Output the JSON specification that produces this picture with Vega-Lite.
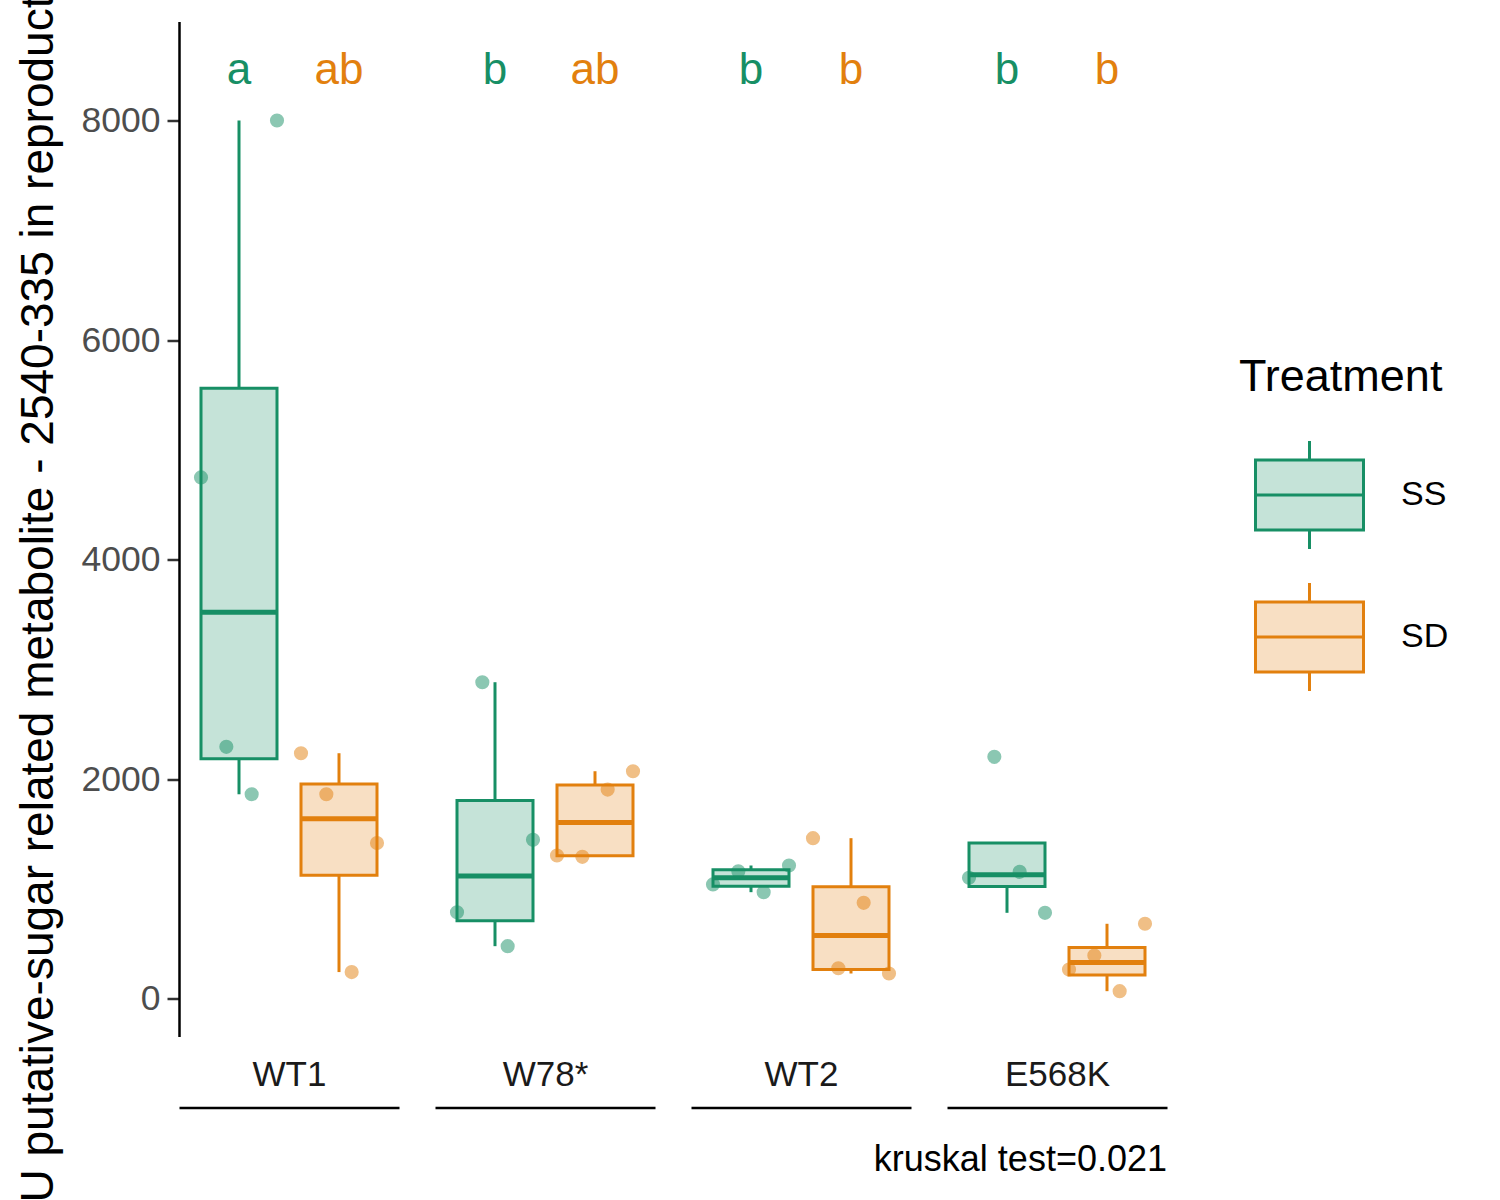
{
  "$schema": "https://vega.github.io/schema/vega-lite/v6.json",
  "padding": {"left": 15, "top": -197.5, "right": 0, "bottom": 0},
  "bounds": "flush",
  "config": {"view": {"stroke": null}, "font": "Liberation Sans"},
  "datasets": {
    "obs": [
      {"Genotype": "WT1", "Treatment": "SS", "rep": 1, "value": 4748},
      {"Genotype": "WT1", "Treatment": "SS", "rep": 2, "value": 2293},
      {"Genotype": "WT1", "Treatment": "SS", "rep": 3, "value": 1861},
      {"Genotype": "WT1", "Treatment": "SS", "rep": 4, "value": 8000},
      {"Genotype": "WT1", "Treatment": "SD", "rep": 1, "value": 2235},
      {"Genotype": "WT1", "Treatment": "SD", "rep": 2, "value": 1861},
      {"Genotype": "WT1", "Treatment": "SD", "rep": 3, "value": 241},
      {"Genotype": "WT1", "Treatment": "SD", "rep": 4, "value": 1417},
      {"Genotype": "W78*", "Treatment": "SS", "rep": 1, "value": 786},
      {"Genotype": "W78*", "Treatment": "SS", "rep": 2, "value": 2882},
      {"Genotype": "W78*", "Treatment": "SS", "rep": 3, "value": 477},
      {"Genotype": "W78*", "Treatment": "SS", "rep": 4, "value": 1446},
      {"Genotype": "W78*", "Treatment": "SD", "rep": 1, "value": 1303},
      {"Genotype": "W78*", "Treatment": "SD", "rep": 2, "value": 1291},
      {"Genotype": "W78*", "Treatment": "SD", "rep": 3, "value": 1904},
      {"Genotype": "W78*", "Treatment": "SD", "rep": 4, "value": 2071},
      {"Genotype": "WT2", "Treatment": "SS", "rep": 1, "value": 1040},
      {"Genotype": "WT2", "Treatment": "SS", "rep": 2, "value": 1160},
      {"Genotype": "WT2", "Treatment": "SS", "rep": 3, "value": 969},
      {"Genotype": "WT2", "Treatment": "SS", "rep": 4, "value": 1212},
      {"Genotype": "WT2", "Treatment": "SD", "rep": 1, "value": 1461},
      {"Genotype": "WT2", "Treatment": "SD", "rep": 2, "value": 276},
      {"Genotype": "WT2", "Treatment": "SD", "rep": 3, "value": 872},
      {"Genotype": "WT2", "Treatment": "SD", "rep": 4, "value": 228},
      {"Genotype": "E568K", "Treatment": "SS", "rep": 1, "value": 1100},
      {"Genotype": "E568K", "Treatment": "SS", "rep": 2, "value": 2202},
      {"Genotype": "E568K", "Treatment": "SS", "rep": 3, "value": 1154},
      {"Genotype": "E568K", "Treatment": "SS", "rep": 4, "value": 781},
      {"Genotype": "E568K", "Treatment": "SD", "rep": 1, "value": 264},
      {"Genotype": "E568K", "Treatment": "SD", "rep": 2, "value": 392},
      {"Genotype": "E568K", "Treatment": "SD", "rep": 3, "value": 67},
      {"Genotype": "E568K", "Treatment": "SD", "rep": 4, "value": 681}
    ],
    "letters": [
      {"Genotype": "WT1", "Treatment": "SS", "letter": "a"},
      {"Genotype": "WT1", "Treatment": "SD", "letter": "ab"},
      {"Genotype": "W78*", "Treatment": "SS", "letter": "b"},
      {"Genotype": "W78*", "Treatment": "SD", "letter": "ab"},
      {"Genotype": "WT2", "Treatment": "SS", "letter": "b"},
      {"Genotype": "WT2", "Treatment": "SD", "letter": "b"},
      {"Genotype": "E568K", "Treatment": "SS", "letter": "b"},
      {"Genotype": "E568K", "Treatment": "SD", "letter": "b"}
    ]
  },
  "resolve": {"scale": {"color": "shared", "stroke": "shared", "y": "shared"}, "legend": {"color": "shared"}},
  "spacing": 36,
  "hconcat": [
    {
      "width": 220, "height": 1015,
      "data": {"name": "obs"},
      "transform": [
        {"filter": "datum.Genotype === 'WT1'"},
        {"joinaggregate": [{"op": "q1", "field": "value", "as": "q1"}, {"op": "q3", "field": "value", "as": "q3"}, {"op": "median", "field": "value", "as": "med"}], "groupby": ["Treatment"]},
        {"calculate": "(datum.value >= datum.q1 - 1.5 * (datum.q3 - datum.q1) && datum.value <= datum.q3 + 1.5 * (datum.q3 - datum.q1)) ? datum.value : null", "as": "inval"},
        {"joinaggregate": [{"op": "min", "field": "inval", "as": "wmin"}, {"op": "max", "field": "inval", "as": "wmax"}], "groupby": ["Treatment"]},
        {"calculate": "min(datum.wmin, datum.q1)", "as": "wlo"},
        {"calculate": "max(datum.wmax, datum.q3)", "as": "whi"}
      ],
      "resolve": {"scale": {"xOffset": "independent"}},
      "layer": [
        {"transform": [{"filter": "datum.rep === 1"}], "mark": {"type": "rule", "strokeWidth": 3},
         "encoding": {
           "x": {"field": "Treatment", "type": "nominal", "scale": {"domain": ["SS", "SD"], "paddingInner": 0.24, "paddingOuter": 0.22},
                 "axis": {"orient": "bottom", "offset": 71, "labels": false, "ticks": false, "domain": true, "domainColor": "black", "domainWidth": 2.5, "title": "WT1", "titleY": -50, "titleBaseline": "top", "titleFontSize": 35, "titleFontWeight": "normal", "titleColor": "#1a1a1a"}},
           "y": {"field": "q3", "type": "quantitative", "scale": {"domain": [-346, 8902], "nice": false, "zero": false},
                 "axis": {"values": [0, 2000, 4000, 6000, 8000], "format": "d", "grid": false, "domainColor": "black", "domainWidth": 2.5, "tickColor": "#333333", "tickWidth": 2.5, "tickSize": 12, "labelFontSize": 35.5, "labelColor": "#4d4d4d", "labelPadding": 7, "title": "AU putative-sugar related metabolite - 2540-335 in reproductive tissue", "titleFontSize": 46, "titleFontWeight": "normal", "titleColor": "black", "titlePadding": 19, "titleY": 496.5}},
           "y2": {"field": "whi"},
           "color": {"field": "Treatment", "type": "nominal", "scale": {"domain": ["SS", "SD"], "range": ["#178F65", "#E2800E"]},
                     "legend": {"title": "Treatment", "orient": "none", "direction": "vertical", "legendX": 1060, "legendY": 333, "padding": 0, "titleLimit": 500, "titleFontSize": 45, "titleFontWeight": "normal", "titleColor": "black", "titlePadding": 40, "labelFontSize": 34, "labelColor": "black", "labelOffset": 36, "rowPadding": 21, "symbolOffset": 15,
                                "symbolType": "M-1,-0.65H1V0.65H-1Z M0,-0.65V-1 M0,0.65V1 M-1,0H1", "symbolSize": 11664, "symbolStrokeWidth": 3,
                                "encode": {"symbols": {"update": {"fill": {"scale": "color", "field": "value"}, "stroke": {"scale": "color", "field": "value"}, "fillOpacity": {"value": 0.25}, "strokeOpacity": {"value": 1}, "opacity": {"value": 1}}}}}}
         }},
        {"transform": [{"filter": "datum.rep === 1"}], "mark": {"type": "rule", "strokeWidth": 3},
         "encoding": {"x": {"field": "Treatment", "type": "nominal"}, "y": {"field": "wlo", "type": "quantitative"}, "y2": {"field": "q1"}, "color": {"field": "Treatment", "type": "nominal"}}},
        {"transform": [{"filter": "datum.rep === 1"}], "mark": {"type": "bar", "fillOpacity": 0.25, "strokeWidth": 3},
         "encoding": {"x": {"field": "Treatment", "type": "nominal"}, "y": {"field": "q1", "type": "quantitative"}, "y2": {"field": "q3"}, "color": {"field": "Treatment", "type": "nominal"},
                      "stroke": {"field": "Treatment", "type": "nominal", "scale": {"domain": ["SS", "SD"], "range": ["#178F65", "#E2800E"]}, "legend": null}}},
        {"transform": [{"filter": "datum.rep === 1"}], "mark": {"type": "tick", "thickness": 5, "size": 76, "opacity": 1},
         "encoding": {"x": {"field": "Treatment", "type": "nominal"}, "y": {"field": "med", "type": "quantitative"}, "color": {"field": "Treatment", "type": "nominal"}}},
        {"mark": {"type": "circle", "size": 200, "opacity": 0.5},
         "encoding": {"x": {"field": "Treatment", "type": "nominal"}, "xOffset": {"field": "rep", "type": "ordinal", "scale": {"paddingInner": 0, "paddingOuter": 0}}, "y": {"field": "value", "type": "quantitative"}, "color": {"field": "Treatment", "type": "nominal"}}},
        {"data": {"name": "letters"}, "transform": [{"filter": "datum.Genotype === 'WT1'"}], "mark": {"type": "text", "fontSize": 44, "baseline": "middle"},
         "encoding": {"x": {"field": "Treatment", "type": "nominal"}, "y": {"datum": 8447, "type": "quantitative"}, "text": {"field": "letter"}, "color": {"field": "Treatment", "type": "nominal"}}}
      ]
    },
    {
      "width": 220, "height": 1015,
      "data": {"name": "obs"},
      "transform": [
        {"filter": "datum.Genotype === 'W78*'"},
        {"joinaggregate": [{"op": "q1", "field": "value", "as": "q1"}, {"op": "q3", "field": "value", "as": "q3"}, {"op": "median", "field": "value", "as": "med"}], "groupby": ["Treatment"]},
        {"calculate": "(datum.value >= datum.q1 - 1.5 * (datum.q3 - datum.q1) && datum.value <= datum.q3 + 1.5 * (datum.q3 - datum.q1)) ? datum.value : null", "as": "inval"},
        {"joinaggregate": [{"op": "min", "field": "inval", "as": "wmin"}, {"op": "max", "field": "inval", "as": "wmax"}], "groupby": ["Treatment"]},
        {"calculate": "min(datum.wmin, datum.q1)", "as": "wlo"},
        {"calculate": "max(datum.wmax, datum.q3)", "as": "whi"}
      ],
      "resolve": {"scale": {"xOffset": "independent"}},
      "layer": [
        {"transform": [{"filter": "datum.rep === 1"}], "mark": {"type": "rule", "strokeWidth": 3},
         "encoding": {
           "x": {"field": "Treatment", "type": "nominal", "scale": {"domain": ["SS", "SD"], "paddingInner": 0.24, "paddingOuter": 0.22},
                 "axis": {"orient": "bottom", "offset": 71, "labels": false, "ticks": false, "domain": true, "domainColor": "black", "domainWidth": 2.5, "title": "W78*", "titleY": -50, "titleBaseline": "top", "titleFontSize": 35, "titleFontWeight": "normal", "titleColor": "#1a1a1a"}},
           "y": {"field": "q3", "type": "quantitative", "scale": {"domain": [-346, 8902], "nice": false, "zero": false}, "axis": null},
           "y2": {"field": "whi"},
           "color": {"field": "Treatment", "type": "nominal"}
         }},
        {"transform": [{"filter": "datum.rep === 1"}], "mark": {"type": "rule", "strokeWidth": 3},
         "encoding": {"x": {"field": "Treatment", "type": "nominal"}, "y": {"field": "wlo", "type": "quantitative", "axis": null}, "y2": {"field": "q1"}, "color": {"field": "Treatment", "type": "nominal"}}},
        {"transform": [{"filter": "datum.rep === 1"}], "mark": {"type": "bar", "fillOpacity": 0.25, "strokeWidth": 3},
         "encoding": {"x": {"field": "Treatment", "type": "nominal"}, "y": {"field": "q1", "type": "quantitative", "axis": null}, "y2": {"field": "q3"}, "color": {"field": "Treatment", "type": "nominal"},
                      "stroke": {"field": "Treatment", "type": "nominal", "legend": null}}},
        {"transform": [{"filter": "datum.rep === 1"}], "mark": {"type": "tick", "thickness": 5, "size": 76, "opacity": 1},
         "encoding": {"x": {"field": "Treatment", "type": "nominal"}, "y": {"field": "med", "type": "quantitative", "axis": null}, "color": {"field": "Treatment", "type": "nominal"}}},
        {"mark": {"type": "circle", "size": 200, "opacity": 0.5},
         "encoding": {"x": {"field": "Treatment", "type": "nominal"}, "xOffset": {"field": "rep", "type": "ordinal", "scale": {"paddingInner": 0, "paddingOuter": 0}}, "y": {"field": "value", "type": "quantitative", "axis": null}, "color": {"field": "Treatment", "type": "nominal"}}},
        {"data": {"name": "letters"}, "transform": [{"filter": "datum.Genotype === 'W78*'"}], "mark": {"type": "text", "fontSize": 44, "baseline": "middle"},
         "encoding": {"x": {"field": "Treatment", "type": "nominal"}, "y": {"datum": 8447, "type": "quantitative", "axis": null}, "text": {"field": "letter"}, "color": {"field": "Treatment", "type": "nominal"}}}
      ]
    },
    {
      "width": 220, "height": 1015,
      "data": {"name": "obs"},
      "transform": [
        {"filter": "datum.Genotype === 'WT2'"},
        {"joinaggregate": [{"op": "q1", "field": "value", "as": "q1"}, {"op": "q3", "field": "value", "as": "q3"}, {"op": "median", "field": "value", "as": "med"}], "groupby": ["Treatment"]},
        {"calculate": "(datum.value >= datum.q1 - 1.5 * (datum.q3 - datum.q1) && datum.value <= datum.q3 + 1.5 * (datum.q3 - datum.q1)) ? datum.value : null", "as": "inval"},
        {"joinaggregate": [{"op": "min", "field": "inval", "as": "wmin"}, {"op": "max", "field": "inval", "as": "wmax"}], "groupby": ["Treatment"]},
        {"calculate": "min(datum.wmin, datum.q1)", "as": "wlo"},
        {"calculate": "max(datum.wmax, datum.q3)", "as": "whi"}
      ],
      "resolve": {"scale": {"xOffset": "independent"}},
      "layer": [
        {"transform": [{"filter": "datum.rep === 1"}], "mark": {"type": "rule", "strokeWidth": 3},
         "encoding": {
           "x": {"field": "Treatment", "type": "nominal", "scale": {"domain": ["SS", "SD"], "paddingInner": 0.24, "paddingOuter": 0.22},
                 "axis": {"orient": "bottom", "offset": 71, "labels": false, "ticks": false, "domain": true, "domainColor": "black", "domainWidth": 2.5, "title": "WT2", "titleY": -50, "titleBaseline": "top", "titleFontSize": 35, "titleFontWeight": "normal", "titleColor": "#1a1a1a"}},
           "y": {"field": "q3", "type": "quantitative", "scale": {"domain": [-346, 8902], "nice": false, "zero": false}, "axis": null},
           "y2": {"field": "whi"},
           "color": {"field": "Treatment", "type": "nominal"}
         }},
        {"transform": [{"filter": "datum.rep === 1"}], "mark": {"type": "rule", "strokeWidth": 3},
         "encoding": {"x": {"field": "Treatment", "type": "nominal"}, "y": {"field": "wlo", "type": "quantitative", "axis": null}, "y2": {"field": "q1"}, "color": {"field": "Treatment", "type": "nominal"}}},
        {"transform": [{"filter": "datum.rep === 1"}], "mark": {"type": "bar", "fillOpacity": 0.25, "strokeWidth": 3},
         "encoding": {"x": {"field": "Treatment", "type": "nominal"}, "y": {"field": "q1", "type": "quantitative", "axis": null}, "y2": {"field": "q3"}, "color": {"field": "Treatment", "type": "nominal"},
                      "stroke": {"field": "Treatment", "type": "nominal", "legend": null}}},
        {"transform": [{"filter": "datum.rep === 1"}], "mark": {"type": "tick", "thickness": 5, "size": 76, "opacity": 1},
         "encoding": {"x": {"field": "Treatment", "type": "nominal"}, "y": {"field": "med", "type": "quantitative", "axis": null}, "color": {"field": "Treatment", "type": "nominal"}}},
        {"mark": {"type": "circle", "size": 200, "opacity": 0.5},
         "encoding": {"x": {"field": "Treatment", "type": "nominal"}, "xOffset": {"field": "rep", "type": "ordinal", "scale": {"paddingInner": 0, "paddingOuter": 0}}, "y": {"field": "value", "type": "quantitative", "axis": null}, "color": {"field": "Treatment", "type": "nominal"}}},
        {"data": {"name": "letters"}, "transform": [{"filter": "datum.Genotype === 'WT2'"}], "mark": {"type": "text", "fontSize": 44, "baseline": "middle"},
         "encoding": {"x": {"field": "Treatment", "type": "nominal"}, "y": {"datum": 8447, "type": "quantitative", "axis": null}, "text": {"field": "letter"}, "color": {"field": "Treatment", "type": "nominal"}}}
      ]
    },
    {
      "width": 220, "height": 1015,
      "title": {"text": "kruskal test=0.021", "orient": "bottom", "anchor": "end", "frame": "group", "fontSize": 36, "fontWeight": "normal", "color": "black", "offset": 35},
      "data": {"name": "obs"},
      "transform": [
        {"filter": "datum.Genotype === 'E568K'"},
        {"joinaggregate": [{"op": "q1", "field": "value", "as": "q1"}, {"op": "q3", "field": "value", "as": "q3"}, {"op": "median", "field": "value", "as": "med"}], "groupby": ["Treatment"]},
        {"calculate": "(datum.value >= datum.q1 - 1.5 * (datum.q3 - datum.q1) && datum.value <= datum.q3 + 1.5 * (datum.q3 - datum.q1)) ? datum.value : null", "as": "inval"},
        {"joinaggregate": [{"op": "min", "field": "inval", "as": "wmin"}, {"op": "max", "field": "inval", "as": "wmax"}], "groupby": ["Treatment"]},
        {"calculate": "min(datum.wmin, datum.q1)", "as": "wlo"},
        {"calculate": "max(datum.wmax, datum.q3)", "as": "whi"}
      ],
      "resolve": {"scale": {"xOffset": "independent"}},
      "layer": [
        {"transform": [{"filter": "datum.rep === 1"}], "mark": {"type": "rule", "strokeWidth": 3},
         "encoding": {
           "x": {"field": "Treatment", "type": "nominal", "scale": {"domain": ["SS", "SD"], "paddingInner": 0.24, "paddingOuter": 0.22},
                 "axis": {"orient": "bottom", "offset": 71, "labels": false, "ticks": false, "domain": true, "domainColor": "black", "domainWidth": 2.5, "title": "E568K", "titleY": -50, "titleBaseline": "top", "titleFontSize": 35, "titleFontWeight": "normal", "titleColor": "#1a1a1a"}},
           "y": {"field": "q3", "type": "quantitative", "scale": {"domain": [-346, 8902], "nice": false, "zero": false}, "axis": null},
           "y2": {"field": "whi"},
           "color": {"field": "Treatment", "type": "nominal"}
         }},
        {"transform": [{"filter": "datum.rep === 1"}], "mark": {"type": "rule", "strokeWidth": 3},
         "encoding": {"x": {"field": "Treatment", "type": "nominal"}, "y": {"field": "wlo", "type": "quantitative", "axis": null}, "y2": {"field": "q1"}, "color": {"field": "Treatment", "type": "nominal"}}},
        {"transform": [{"filter": "datum.rep === 1"}], "mark": {"type": "bar", "fillOpacity": 0.25, "strokeWidth": 3},
         "encoding": {"x": {"field": "Treatment", "type": "nominal"}, "y": {"field": "q1", "type": "quantitative", "axis": null}, "y2": {"field": "q3"}, "color": {"field": "Treatment", "type": "nominal"},
                      "stroke": {"field": "Treatment", "type": "nominal", "legend": null}}},
        {"transform": [{"filter": "datum.rep === 1"}], "mark": {"type": "tick", "thickness": 5, "size": 76, "opacity": 1},
         "encoding": {"x": {"field": "Treatment", "type": "nominal"}, "y": {"field": "med", "type": "quantitative", "axis": null}, "color": {"field": "Treatment", "type": "nominal"}}},
        {"mark": {"type": "circle", "size": 200, "opacity": 0.5},
         "encoding": {"x": {"field": "Treatment", "type": "nominal"}, "xOffset": {"field": "rep", "type": "ordinal", "scale": {"paddingInner": 0, "paddingOuter": 0}}, "y": {"field": "value", "type": "quantitative", "axis": null}, "color": {"field": "Treatment", "type": "nominal"}}},
        {"data": {"name": "letters"}, "transform": [{"filter": "datum.Genotype === 'E568K'"}], "mark": {"type": "text", "fontSize": 44, "baseline": "middle"},
         "encoding": {"x": {"field": "Treatment", "type": "nominal"}, "y": {"datum": 8447, "type": "quantitative", "axis": null}, "text": {"field": "letter"}, "color": {"field": "Treatment", "type": "nominal"}}}
      ]
    }
  ]
}
